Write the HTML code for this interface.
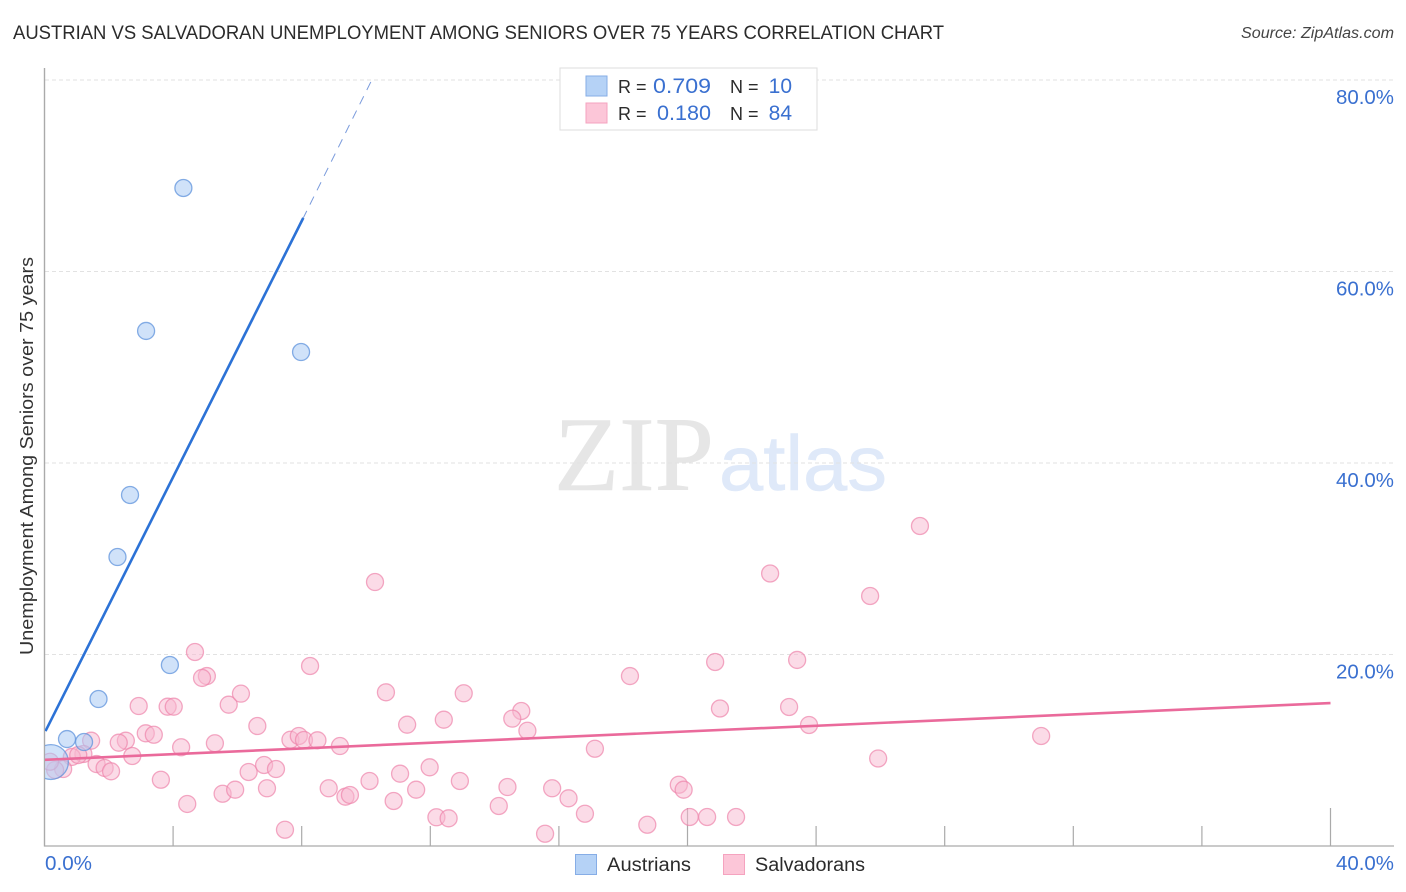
<!DOCTYPE html>
<html lang="en">
<head>
<meta charset="utf-8">
<title>Austrian vs Salvadoran Unemployment Correlation Chart</title>
<style>
html,body{margin:0;padding:0;background:#fff;width:1406px;height:892px;overflow:hidden}
svg{display:block;font-family:"Liberation Sans",sans-serif}
</style>
</head>
<body>
<svg id="chart" width="1406" height="892" viewBox="0 0 1406 892" xmlns="http://www.w3.org/2000/svg">
  <defs>
    <clipPath id="plot-clip"><rect x="45" y="60" width="1349" height="786"/></clipPath>
  </defs>
  <text x="13" y="39" font-size="19.5" fill="#2b2b2b" textLength="931" lengthAdjust="spacingAndGlyphs">AUSTRIAN VS SALVADORAN UNEMPLOYMENT AMONG SENIORS OVER 75 YEARS CORRELATION CHART</text>
  <text x="1394" y="38" font-size="15.5" font-style="italic" fill="#444" text-anchor="end" textLength="153" lengthAdjust="spacingAndGlyphs">Source: ZipAtlas.com</text>

  <g>
    <text x="554" y="490" font-family="'Liberation Serif',serif" font-size="106" fill="#e6e6e6" stroke="#e6e6e6" stroke-width="0.6" textLength="160" lengthAdjust="spacingAndGlyphs">ZIP</text>
    <text x="719" y="490" font-size="78" fill="#dfe9f9" stroke="#dfe9f9" stroke-width="0.6" textLength="168" lengthAdjust="spacingAndGlyphs">atlas</text>
  </g>

  <g id="grid"></g>
  <g id="axes"></g>
  <g id="ylabels"></g>
  <g id="xlabels"></g>

  <text transform="translate(33,456) rotate(-90)" font-size="18.5" fill="#333" text-anchor="middle" textLength="398" lengthAdjust="spacingAndGlyphs">Unemployment Among Seniors over 75 years</text>

  <g id="points-salvadorans" clip-path="url(#plot-clip)"></g>
  <g id="points-austrians" clip-path="url(#plot-clip)"></g>
  <g id="trends" clip-path="url(#plot-clip)"></g>

  <g>
    <rect x="560" y="68" width="257" height="62" fill="#fff" stroke="#ddd" stroke-width="1"/>
    <rect x="586" y="76" width="21" height="20" fill="#b5d2f6" stroke="#86ade6"/>
    <rect x="586" y="103" width="21" height="20" fill="#fcc6d8" stroke="#f5a3bf"/>
    <text x="618" y="93" font-size="18" fill="#2b2b2b">R =</text>
    <text x="711" y="93" font-size="21" fill="#3a70d0" text-anchor="end" textLength="58" lengthAdjust="spacingAndGlyphs">0.709</text>
    <text x="730" y="93" font-size="18" fill="#2b2b2b">N =</text>
    <text x="792" y="93" font-size="21" fill="#3a70d0" text-anchor="end">10</text>
    <text x="618" y="120" font-size="18" fill="#2b2b2b">R =</text>
    <text x="711" y="120" font-size="21" fill="#3a70d0" text-anchor="end" textLength="54" lengthAdjust="spacingAndGlyphs">0.180</text>
    <text x="730" y="120" font-size="18" fill="#2b2b2b">N =</text>
    <text x="792" y="120" font-size="21" fill="#3a70d0" text-anchor="end">84</text>
  </g>

  <g>
    <rect x="575.5" y="854.5" width="21" height="20" fill="#b5d2f6" stroke="#86ade6"/>
    <text x="607" y="871" font-size="19" fill="#2b2b2b" textLength="84" lengthAdjust="spacingAndGlyphs">Austrians</text>
    <rect x="723.5" y="854.5" width="21" height="20" fill="#fcc6d8" stroke="#f5a3bf"/>
    <text x="755" y="871" font-size="19" fill="#2b2b2b" textLength="110" lengthAdjust="spacingAndGlyphs">Salvadorans</text>
  </g>
</svg>

<script>
const yTickValues = [20, 40, 60, 80];
const yTickLabels = ["20.0%", "40.0%", "60.0%", "80.0%"];
const xTickValues = [4, 8, 12, 16, 20, 24, 28, 32, 36, 40];
const xTallTicks = [20, 40];
const xEndValues = [0, 40];
const xEndLabels = ["0.0%", "40.0%"];

const austrianX = [4.32, 3.16, 7.98, 2.66, 2.27, 3.90, 1.68, 0.70, 1.23, 0.20];
const austrianY = [68.72, 53.79, 51.59, 36.66, 30.18, 18.90, 15.35, 11.17, 10.86, 8.77];
const austrianWeight = [1, 1, 1, 1, 1, 1, 1, 1, 1, 2.05];

const salvadoranX = [2.93, 3.83, 4.02, 5.73, 6.11, 6.62, 3.15, 3.40, 2.53, 2.31, 1.45, 1.21, 0.85, 2.73, 4.25, 5.30, 7.65, 7.91, 8.07, 8.49, 9.19, 1.62, 1.87, 2.07, 3.62, 4.44, 5.54, 5.93, 6.35, 6.83, 7.20, 6.92, 8.84, 9.36, 9.50, 7.48, 0.58, 0.33, 0.17, 10.62, 13.04, 11.28, 12.42, 14.83, 14.55, 15.02, 18.21, 17.12, 11.98, 11.06, 10.11, 11.56, 10.86, 12.92, 14.40, 14.13, 15.79, 16.30, 16.81, 15.57, 18.75, 20.07, 19.73, 19.88, 12.19, 12.57, 4.68, 5.05, 4.90, 8.26, 10.28, 27.23, 22.57, 25.68, 23.41, 20.86, 21.01, 23.16, 23.78, 31.00, 25.93, 20.61, 21.51, 1.05];
const salvadoranY = [14.62, 14.55, 14.55, 14.76, 15.91, 12.53, 11.77, 11.62, 11.00, 10.79, 11.00, 9.61, 9.30, 9.40, 10.31, 10.73, 11.10, 11.49, 11.07, 11.04, 10.44, 8.56, 8.15, 7.80, 6.92, 4.39, 5.46, 5.88, 7.73, 8.46, 8.04, 6.03, 6.03, 5.15, 5.33, 1.70, 8.04, 7.94, 8.80, 16.05, 15.95, 12.67, 13.19, 14.10, 13.30, 12.04, 17.75, 10.16, 8.22, 7.55, 6.79, 5.88, 4.70, 6.79, 6.16, 4.18, 6.03, 4.98, 3.37, 1.28, 2.22, 3.03, 6.40, 5.88, 3.00, 2.89, 20.26, 17.75, 17.55, 18.80, 27.57, 33.42, 28.46, 26.11, 19.43, 19.22, 14.36, 14.52, 12.64, 11.49, 9.14, 3.03, 3.03, 9.50];

const austrianTrendStart = [0, 12.0];
const austrianTrendSolidEnd = [8.05, 65.6];
const austrianTrendDashEnd = [10.15, 79.8];
const salvadoranTrendStart = [0, 9.0];
const salvadoranTrendEnd = [40, 14.93];

const NS = "http://www.w3.org/2000/svg";
function xScale(v) { return 44.5 + v * 32.15; }
function yScale(v) { return 846 - v * 9.575; }
function make(tag, parentId, attrs) {
  const el = document.createElementNS(NS, tag);
  for (const k in attrs) el.setAttribute(k, attrs[k]);
  document.getElementById(parentId).appendChild(el);
  return el;
}

yTickValues.forEach(function (v, i) {
  const line = make("line", "grid", { x1: 45, x2: 1394, y1: yScale(v), y2: yScale(v), stroke: "#e2e2e2", "stroke-width": 1, "stroke-dasharray": "4 3" });
  
  
  const label = make("text", "ylabels", { x: 1394, y: yScale(v) + 24, "text-anchor": "end", "font-size": 20, fill: "#3a70d0", textLength: 58, lengthAdjust: "spacingAndGlyphs" });
  label.textContent = yTickLabels[i];
  
  
});

const yAxis = make("line", "axes", { x1: 44.5, x2: 44.5, y1: 68, y2: 846.5, stroke: "#aaa", "stroke-width": 1.4 });


const xAxis = make("line", "axes", { x1: 44, x2: 1394, y1: 846, y2: 846, stroke: "#aaa", "stroke-width": 1.2 });



xTickValues.forEach(function (v) {
  const tall = xTallTicks.indexOf(v) >= 0;
  const tick = make("line", "axes", { x1: xScale(v), x2: xScale(v), y1: tall ? 808 : 826, y2: 846, stroke: "#aaa", "stroke-width": 1.2 });
  
  
});

xEndValues.forEach(function (v, i) {
  const label = make("text", "xlabels", { x: i === 0 ? xScale(v) + 0.5 : 1394, y: 870, "text-anchor": i === 0 ? "start" : "end", "font-size": 20, fill: "#3a70d0", textLength: i === 0 ? 47 : 58, lengthAdjust: "spacingAndGlyphs" });
  label.textContent = xEndLabels[i];
  
  
});

salvadoranX.forEach(function (v, i) {
  const dot = make("circle", "points-salvadorans", { cx: xScale(v), cy: yScale(salvadoranY[i]), r: 8.5, fill: "#f8b8cf", "fill-opacity": 0.5, stroke: "#ee85ab", "stroke-opacity": 0.7, "stroke-width": 1.3 });
  
  
});

austrianX.forEach(function (v, i) {
  const dot = make("circle", "points-austrians", { cx: xScale(v), cy: yScale(austrianY[i]), r: 8.5 * austrianWeight[i], fill: "#a9cbf4", "fill-opacity": 0.55, stroke: "#5f93dc", "stroke-opacity": 0.75, "stroke-width": 1.3 });
  
  
});

const blueSolid = make("line", "trends", { x1: xScale(austrianTrendStart[0]) + 1, y1: yScale(austrianTrendStart[1]), x2: xScale(austrianTrendSolidEnd[0]), y2: yScale(austrianTrendSolidEnd[1]), stroke: "#2c72d6", "stroke-width": 2.6 });


const blueDash = make("line", "trends", { x1: xScale(austrianTrendDashEnd[0]), y1: yScale(austrianTrendDashEnd[1]), x2: xScale(austrianTrendSolidEnd[0]), y2: yScale(austrianTrendSolidEnd[1]), stroke: "#7a9bdc", "stroke-width": 1, "stroke-dasharray": "9 7" });


const pinkLine = make("line", "trends", { x1: xScale(salvadoranTrendStart[0]), y1: yScale(salvadoranTrendStart[1]), x2: xScale(salvadoranTrendEnd[0]), y2: yScale(salvadoranTrendEnd[1]), stroke: "#ea6a9b", "stroke-width": 2.6 });


</script>
</body>
</html>
